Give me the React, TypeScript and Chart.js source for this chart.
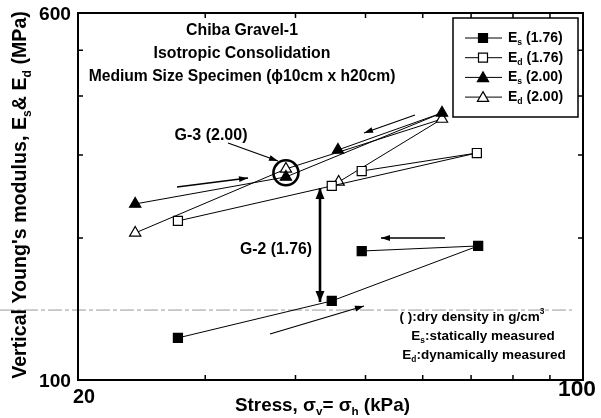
import React, { useEffect, useRef } from 'react';
import { Chart, registerables } from 'chart.js';

Chart.register(...registerables);

// ---- data ----
const xTicks = [20, 30, 40, 50, 60, 70, 80, 90, 100];
const yTicks = [100, 200, 300, 400, 500, 600];
const xLabeled = [20, 100];
const yLabeled = [100, 600];

const stressEs176 = [27.5, 44.9, 71.6, 49.4];
const es176 = [122.8, 147.1, 192.4, 187.7];
const stressEd176 = [27.5, 44.9, 71.3, 49.4];
const ed176 = [217.4, 257.9, 302.9, 277.4];
const stressEs200 = [24.0, 38.8, 63.8, 45.8];
const es200 = [236.2, 269.5, 368.4, 307.4];
const stressEd200 = [24.0, 38.8, 63.8, 45.9];
const ed200 = [205.0, 280.2, 357.6, 263.0];

const circleCenter = { x: 38.8, y: 275 };
const refLineValue = 140.7;

const FONT = '"Liberation Sans", Arial, Helvetica, sans-serif';

type Seg = { t: string; sub?: boolean; sup?: boolean };

function drawRich(
  ctx: CanvasRenderingContext2D,
  segs: Seg[],
  x: number,
  y: number,
  size0: number,
  align: 'left' | 'center' | 'right',
  fitW?: number
) {
  const measure = (size: number) => {
    let w = 0;
    for (const s of segs) {
      ctx.font = `bold ${s.sub || s.sup ? size * 0.62 : size}px ${FONT}`;
      w += ctx.measureText(s.t).width;
    }
    return w;
  };
  let size = size0;
  if (fitW) size = size0 * fitW / measure(size0);
  const subSize = size * 0.62;
  ctx.textBaseline = 'middle';
  ctx.textAlign = 'left';
  const w = measure(size);
  let cx = align === 'left' ? x : align === 'center' ? x - w / 2 : x - w;
  for (const s of segs) {
    const sz = s.sub || s.sup ? subSize : size;
    ctx.font = `bold ${sz}px ${FONT}`;
    const dy = s.sub ? size * 0.32 : s.sup ? -size * 0.38 : 0;
    ctx.fillText(s.t, cx, y + dy);
    cx += ctx.measureText(s.t).width;
  }
}

function arrowHead(ctx: CanvasRenderingContext2D, x1: number, y1: number, x2: number, y2: number, len: number, half: number) {
  const a = Math.atan2(y2 - y1, x2 - x1);
  const bx = x2 - Math.cos(a) * len;
  const by = y2 - Math.sin(a) * len;
  ctx.beginPath();
  ctx.moveTo(x2, y2);
  ctx.lineTo(bx + Math.sin(a) * half, by - Math.cos(a) * half);
  ctx.lineTo(bx - Math.sin(a) * half, by + Math.cos(a) * half);
  ctx.closePath();
  ctx.fill();
}

function arrow(
  ctx: CanvasRenderingContext2D,
  x1: number, y1: number, x2: number, y2: number,
  lw = 1.3, len = 9, half = 3, both = false
) {
  ctx.lineWidth = lw;
  ctx.beginPath();
  ctx.moveTo(x1, y1);
  ctx.lineTo(x2, y2);
  ctx.stroke();
  arrowHead(ctx, x1, y1, x2, y2, len, half);
  if (both) arrowHead(ctx, x2, y2, x1, y1, len, half);
}

function marker(ctx: CanvasRenderingContext2D, kind: 'rect' | 'triangle', filled: boolean, x: number, y: number) {
  ctx.beginPath();
  if (kind === 'rect') {
    ctx.rect(x - 4.5, y - 4.5, 9, 9);
  } else {
    const r = 6.5;
    ctx.moveTo(x, y - r);
    ctx.lineTo(x + r * 0.866, y + r * 0.5);
    ctx.lineTo(x - r * 0.866, y + r * 0.5);
    ctx.closePath();
  }
  ctx.fillStyle = filled ? '#000' : '#fff';
  ctx.fill();
  ctx.lineWidth = 1.2;
  ctx.strokeStyle = '#000';
  ctx.stroke();
}

const decor = {
  id: 'decor',
  beforeDraw(chart: any) {
    const ctx = chart.ctx as CanvasRenderingContext2D;
    ctx.save();
    ctx.fillStyle = '#fff';
    ctx.fillRect(0, 0, chart.width, chart.height);
    ctx.restore();
  },
  beforeDatasetsDraw(chart: any) {
    const ctx = chart.ctx as CanvasRenderingContext2D;
    const ys = chart.scales.y;
    const yy = ys.getPixelForValue(refLineValue);
    ctx.save();
    ctx.strokeStyle = '#9a9a9a';
    ctx.lineWidth = 1;
    ctx.setLineDash([14, 3, 4, 3]);
    ctx.beginPath();
    ctx.moveTo(0, yy);
    ctx.lineTo(572, yy);
    ctx.stroke();
    ctx.restore();
  },
  afterDraw(chart: any) {
    const ctx = chart.ctx as CanvasRenderingContext2D;
    const { left, right, top, bottom } = chart.chartArea;
    const xs = chart.scales.x;
    const ys = chart.scales.y;
    ctx.save();
    ctx.strokeStyle = '#000';
    ctx.fillStyle = '#000';

    // frame
    ctx.lineWidth = 2;
    ctx.strokeRect(left, top, right - left, bottom - top);

    // inward ticks on all four sides
    ctx.lineWidth = 1.5;
    for (const v of xTicks) {
      const px = xs.getPixelForValue(v);
      ctx.beginPath();
      ctx.moveTo(px, bottom);
      ctx.lineTo(px, bottom - 5);
      ctx.moveTo(px, top);
      ctx.lineTo(px, top + 5);
      ctx.stroke();
    }
    for (const v of yTicks) {
      const py = ys.getPixelForValue(v);
      ctx.beginPath();
      ctx.moveTo(left, py);
      ctx.lineTo(left + 5, py);
      ctx.moveTo(right, py);
      ctx.lineTo(right - 5, py);
      ctx.stroke();
    }

    // tick labels
    for (const v of yLabeled) {
      const py = ys.getPixelForValue(v);
      drawRich(ctx, [{ t: String(v) }], 71, py + 2, 18, 'right', 32);
    }
    {
      const p20 = xs.getPixelForValue(xLabeled[0]);
      drawRich(ctx, [{ t: String(xLabeled[0]) }], p20 + 6, 398, 18, 'center', 22);
      const p100 = xs.getPixelForValue(xLabeled[1]);
      drawRich(ctx, [{ t: String(xLabeled[1]) }], p100 - 6, 390, 18, 'center', 38);
    }

    // axis titles
    drawRich(
      ctx,
      [{ t: 'Stress, σ' }, { t: 'v', sub: true }, { t: '= σ' }, { t: 'h', sub: true }, { t: ' (kPa)' }],
      235, 406, 16, 'left', 175
    );
    ctx.save();
    ctx.translate(21, 195);
    ctx.rotate(-Math.PI / 2);
    drawRich(
      ctx,
      [{ t: "Vertical Young's modulus, E" }, { t: 's', sub: true }, { t: '& E' }, { t: 'd', sub: true }, { t: ' (MPa)' }],
      0, 0, 16, 'center', 368
    );
    ctx.restore();

    // title block
    drawRich(ctx, [{ t: 'Chiba Gravel-1' }], 242, 31, 14, 'center', 112);
    drawRich(ctx, [{ t: 'Isotropic Consolidation' }], 242, 54, 14, 'center', 177);
    drawRich(ctx, [{ t: 'Medium Size Specimen (ϕ10cm x h20cm)' }], 242, 77, 14, 'center', 307);

    // G-3 label and circle
    drawRich(ctx, [{ t: 'G-3 (2.00)' }], 211, 136, 14, 'center', 73);
    arrow(ctx, 228, 143, 278, 161, 1.3, 9, 3);
    const cx = xs.getPixelForValue(circleCenter.x);
    const cy = ys.getPixelForValue(circleCenter.y);
    ctx.lineWidth = 2.6;
    ctx.beginPath();
    ctx.arc(cx, cy, 12.5, 0, Math.PI * 2);
    ctx.stroke();

    // G-2 label and double arrow
    drawRich(ctx, [{ t: 'G-2 (1.76)' }], 276, 250, 14, 'center', 72);
    arrow(ctx, 320, 188, 320, 302, 2.6, 11, 4.5, true);

    // loading/unloading arrows
    arrow(ctx, 177, 187, 248, 178, 1.3, 9, 3);
    arrow(ctx, 415, 115, 364, 133, 1.3, 9, 3);
    arrow(ctx, 445, 238, 381, 238, 1.3, 9, 3);
    arrow(ctx, 270, 334, 364, 306, 1.3, 9, 3);

    // notes
    drawRich(ctx, [{ t: '( ):dry density in g/cm' }, { t: '3', sup: true }], 472, 317, 13.5, 'center');
    drawRich(ctx, [{ t: 'E' }, { t: 's', sub: true }, { t: ':statically measured' }], 483, 336, 13.5, 'center');
    drawRich(ctx, [{ t: 'E' }, { t: 'd', sub: true }, { t: ':dynamically measured' }], 484, 355, 13.5, 'center');

    // legend
    ctx.lineWidth = 1.5;
    ctx.strokeStyle = '#000';
    ctx.fillStyle = '#fff';
    ctx.fillRect(453, 18, 125, 99);
    ctx.strokeRect(453, 18, 125, 99);
    const entries: { kind: 'rect' | 'triangle'; filled: boolean; sub: string; dens: string }[] = [
      { kind: 'rect', filled: true, sub: 's', dens: ' (1.76)' },
      { kind: 'rect', filled: false, sub: 'd', dens: ' (1.76)' },
      { kind: 'triangle', filled: true, sub: 's', dens: ' (2.00)' },
      { kind: 'triangle', filled: false, sub: 'd', dens: ' (2.00)' },
    ];
    entries.forEach((e, i) => {
      const y = 38 + i * 19.7;
      ctx.lineWidth = 1;
      ctx.strokeStyle = '#000';
      ctx.beginPath();
      ctx.moveTo(465, y);
      ctx.lineTo(502, y);
      ctx.stroke();
      marker(ctx, e.kind, e.filled, 483, y + (e.kind === 'triangle' ? 1 : 0));
      ctx.fillStyle = '#000';
      drawRich(ctx, [{ t: 'E' }, { t: e.sub, sub: true }, { t: e.dens }], 508, y, 14, 'left');
    });

    ctx.restore();
  },
};

function ds(label: string, xsv: number[], ysv: number[], style: string, filled: boolean) {
  return {
    label,
    data: xsv.map((x, i) => ({ x, y: ysv[i] })),
    showLine: true,
    borderColor: '#000',
    borderWidth: 1,
    pointStyle: style,
    pointRadius: style === 'rect' ? 6.4 : 6.5,
    pointBackgroundColor: filled ? '#000' : '#fff',
    pointBorderColor: '#000',
    pointBorderWidth: 1.2,
    tension: 0,
    clip: false,
  };
}

export default function App() {
  const ref = useRef<HTMLCanvasElement | null>(null);
  useEffect(() => {
    if (!ref.current) return;
    const chart = new Chart(ref.current, {
      type: 'scatter',
      data: {
        datasets: [
          ds('Es (1.76)', stressEs176, es176, 'rect', true),
          ds('Ed (1.76)', stressEd176, ed176, 'rect', false),
          ds('Es (2.00)', stressEs200, es200, 'triangle', true),
          ds('Ed (2.00)', stressEd200, ed200, 'triangle', false),
        ] as any,
      },
      options: {
        animation: false,
        responsive: false,
        devicePixelRatio: 1,
        layout: { padding: { top: 13, right: 18, left: 0, bottom: 0 } },
        plugins: { legend: { display: false }, tooltip: { enabled: false } },
        scales: {
          x: {
            type: 'logarithmic',
            min: 20,
            max: 100,
            grid: { display: false },
            border: { display: false },
            ticks: { display: false },
            afterBuildTicks: (s: any) => {
              s.ticks = xTicks.map((v) => ({ value: v }));
            },
            afterFit: (s: any) => {
              s.height = 38;
            },
          },
          y: {
            type: 'logarithmic',
            min: 100,
            max: 600,
            grid: { display: false },
            border: { display: false },
            ticks: { display: false },
            afterBuildTicks: (s: any) => {
              s.ticks = yTicks.map((v) => ({ value: v }));
            },
            afterFit: (s: any) => {
              s.width = 78;
            },
          },
        } as any,
      },
      plugins: [decor],
    });
    return () => chart.destroy();
  }, []);
  return (
    <div style={{ position: 'absolute', left: 0, top: 0, width: 601, height: 418, background: '#fff' }}>
      <canvas ref={ref} width={601} height={418} style={{ display: 'block' }} />
    </div>
  );
}
